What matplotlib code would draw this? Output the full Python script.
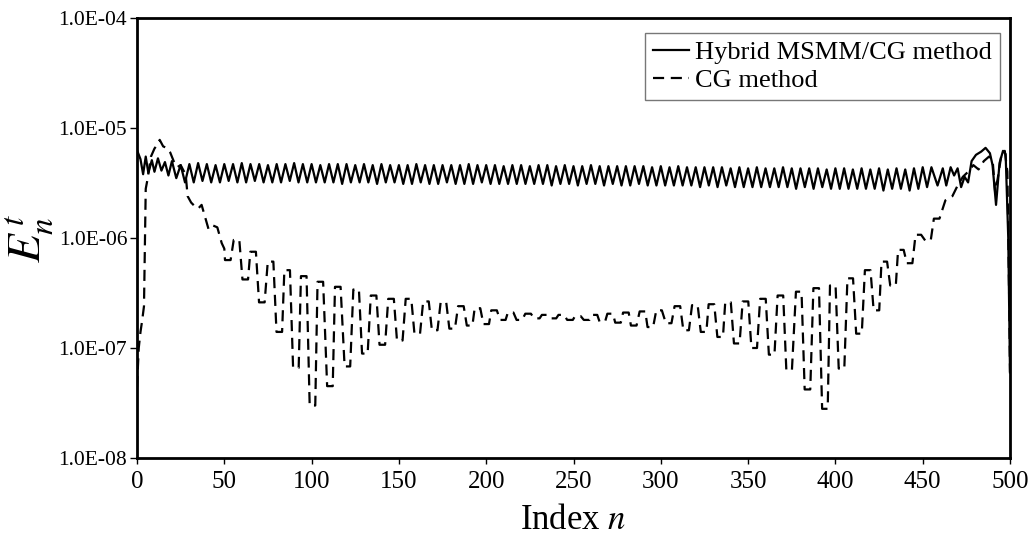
import numpy as np
import matplotlib
matplotlib.use("Agg")
import matplotlib.pyplot as plt
from matplotlib.ticker import FixedLocator, FixedFormatter, NullLocator

plt.rcParams["font.family"] = ["Liberation Serif", "DejaVu Serif"]
plt.rcParams["mathtext.fontset"] = "stix"

# ---------------- data ----------------
# Hybrid MSMM/CG method: error values in units of 1e-6
hybrid_head_n = [0, 2, 3.5, 5, 6.5, 8.5, 10, 12, 14, 16, 18, 20, 22.5, 25, 27.5]
hybrid_head = [6.3, 5.2, 3.8, 5.5, 3.9, 5.1, 4.0, 5.3, 4.1, 4.9, 3.7, 5.0, 3.5, 4.6, 3.2]

# regular part, sampled every 2.5 indices from n = 30 to n = 455
hybrid_body_first, hybrid_body_step = 30.0, 2.5
hybrid_body = [
    4.7, 3.2, 4.8, 3.3, 4.7, 3.2, 4.6, 3.2, 4.7, 3.3,
    4.7, 3.2, 4.8, 3.2, 4.7, 3.3, 4.7, 3.2, 4.6, 3.2,
    4.7, 3.2, 4.7, 3.3, 4.8, 3.2, 4.7, 3.2, 4.7, 3.2,
    4.6, 3.2, 4.7, 3.2, 4.7, 3.1, 4.7, 3.2, 4.6, 3.2,
    4.7, 3.2, 4.6, 3.1, 4.7, 3.2, 4.6, 3.2, 4.6, 3.1,
    4.6, 3.1, 4.7, 3.2, 4.6, 3.1, 4.6, 3.1, 4.6, 3.2,
    4.6, 3.1, 4.6, 3.1, 4.7, 3.1, 4.6, 3.2, 4.6, 3.1,
    4.6, 3.1, 4.5, 3.1, 4.6, 3.1, 4.6, 3.1, 4.5, 3.1,
    4.6, 3.1, 4.6, 3.0, 4.5, 3.1, 4.6, 3.1, 4.5, 3.0,
    4.5, 3.1, 4.6, 3.1, 4.5, 3.0, 4.5, 3.1, 4.5, 3.0,
    4.5, 3.0, 4.5, 3.1, 4.5, 3.0, 4.4, 3.0, 4.5, 3.0,
    4.4, 3.0, 4.5, 3.0, 4.4, 3.0, 4.4, 2.9, 4.4, 3.0,
    4.4, 2.9, 4.4, 3.0, 4.3, 2.9, 4.4, 2.9, 4.3, 2.9,
    4.4, 2.9, 4.3, 2.9, 4.3, 2.9, 4.4, 2.9, 4.3, 2.8,
    4.3, 2.9, 4.3, 2.8, 4.3, 2.9, 4.2, 2.8, 4.3, 2.8,
    4.3, 2.8, 4.2, 2.8, 4.3, 2.8, 4.2, 2.8, 4.3, 2.7,
    4.2, 2.8, 4.3, 2.8, 4.2, 2.7, 4.3, 2.8, 4.4, 2.9,
    4.4,
]

hybrid_tail_n = [458.5, 461.5, 463.5, 466, 468, 470, 472, 474, 476, 478,
                 480.5, 483.5, 486, 488.5, 490, 492, 494, 496, 497.5, 499, 500]
hybrid_tail = [3.0, 4.3, 3.0, 4.4, 3.7, 4.3, 2.9, 3.6, 3.2, 5.0,
               5.7, 6.1, 6.6, 5.9, 4.6, 2.0, 4.8, 6.2, 5.8, 1.0, 0.06]

# CG method
cg_head_n = [0, 1, 2, 3, 4, 5, 6, 8, 10, 12, 13, 15, 17, 19, 21, 23, 25, 27, 28,
             29, 31, 33, 35, 37, 39.5, 41, 43.5, 46, 48.5, 50]
cg_head = [4.4e-8, 1.0e-7, 1.4e-7, 1.8e-7, 2.4e-7, 2.8e-6, 3.4e-6, 5.5e-6, 6.5e-6,
           7.2e-6, 7.8e-6, 6.8e-6, 6.6e-6, 6.0e-6, 5.0e-6, 4.4e-6, 4.6e-6, 4.0e-6,
           3.6e-6, 2.4e-6, 2.1e-6, 1.95e-6, 1.85e-6, 2.0e-6, 1.45e-6, 1.2e-6,
           1.3e-6, 1.25e-6, 9.0e-7, 8.0e-7]

cg_trough_n = [52, 62, 71.5, 81.5, 91, 100.5, 110.5, 120.5, 130.5, 140.5,
               150.5, 160.5, 170.5, 180.5, 190.5, 200, 209.5, 219, 229, 238.5,
               248, 257.5, 266.5, 275.5, 284.5, 294, 304.5, 314.5, 324.5, 334,
               343.5, 353.5, 363.5, 373.5, 384, 394, 403.5, 413.5, 423.5, 433,
               442.5, 453]
cg_trough = [6.3e-7, 4.2e-7, 2.6e-7, 1.4e-7, 6.6e-8, 3.0e-8, 4.5e-8, 6.8e-8, 8.9e-8, 1.07e-7,
             1.17e-7, 1.35e-7, 1.45e-7, 1.5e-7, 1.6e-7, 1.65e-7, 1.8e-7, 1.8e-7, 1.86e-7, 1.86e-7,
             1.8e-7, 1.8e-7, 1.74e-7, 1.7e-7, 1.6e-7, 1.55e-7, 1.68e-7, 1.45e-7, 1.4e-7, 1.26e-7,
             1.1e-7, 1.0e-7, 8.7e-8, 6.3e-8, 4.2e-8, 2.8e-8, 6.5e-8, 1.35e-7, 2.2e-7, 3.7e-7,
             5.9e-7, 9.5e-7]

cg_peak_n = [57, 66.5, 76.5, 86, 95.5, 105, 115, 125.5, 135.5, 145.5,
             155.5, 165.5, 175.5, 185.5, 195, 204.5, 214, 224, 233.5, 243,
             252.5, 262, 271, 280, 289.5, 299, 309.5, 319.5, 329, 338.5,
             348.5, 358.5, 368.5, 379, 389, 398.5, 408.5, 418.5, 428, 437.5,
             447.5, 458]
cg_peak = [9.6e-7, 7.5e-7, 6.1e-7, 5.1e-7, 4.5e-7, 4.0e-7, 3.6e-7, 3.4e-7, 3.0e-7, 2.8e-7,
           2.8e-7, 2.65e-7, 2.6e-7, 2.4e-7, 2.3e-7, 2.2e-7, 2.1e-7, 2.05e-7, 2.0e-7, 2.0e-7,
           1.95e-7, 2.0e-7, 2.05e-7, 2.1e-7, 2.15e-7, 2.2e-7, 2.4e-7, 2.45e-7, 2.5e-7, 2.6e-7,
           2.65e-7, 2.8e-7, 3.0e-7, 3.25e-7, 3.5e-7, 3.7e-7, 4.3e-7, 5.1e-7, 6.1e-7, 7.8e-7,
           1.07e-6, 1.5e-6]

cg_tail_n = [463, 467, 470, 473, 476, 479, 482, 485, 488, 490, 491.5, 493, 495, 497,
             498.5, 499.5, 500]
cg_tail = [2.2e-6, 2.4e-6, 3.0e-6, 3.6e-6, 4.0e-6, 4.6e-6, 4.2e-6, 5.0e-6, 5.5e-6,
           5.2e-6, 2.6e-6, 3.5e-6, 5.6e-6, 6.2e-6, 4.0e-6, 3.0e-7, 6.0e-8]

x_ticks = [0, 50, 100, 150, 200, 250, 300, 350, 400, 450, 500]
y_ticks = [1e-8, 1e-7, 1e-6, 1e-5, 1e-4]
y_tick_labels = ["1.0E-08", "1.0E-07", "1.0E-06", "1.0E-05", "1.0E-04"]

# ---------------- assemble line paths ----------------
hybrid_body_n = hybrid_body_first + hybrid_body_step * np.arange(len(hybrid_body))
hybrid_n = np.concatenate([hybrid_head_n, hybrid_body_n, hybrid_tail_n])
hybrid_e = np.concatenate([hybrid_head, hybrid_body, hybrid_tail]) * 1e-6

# each CG extremum is drawn as a short flat cap of the read value
cap = 1.6
cg_mid_n, cg_mid_e = [], []
for tn, tv, pn, pv in zip(cg_trough_n, cg_trough, cg_peak_n, cg_peak):
    cg_mid_n += [tn - cap, tn + cap, pn - cap, pn + cap]
    cg_mid_e += [tv, tv, pv, pv]
cg_n = np.concatenate([cg_head_n, cg_mid_n, cg_tail_n])
cg_e = np.concatenate([cg_head, cg_mid_e, cg_tail])

# ---------------- figure ----------------
W, H = 1031, 541
left, right, top, bottom = 137, 1010, 18, 458
fig = plt.figure(figsize=(W / 100, H / 100), dpi=100)
fig.patch.set_facecolor("white")
ax = fig.add_axes([left / W, 1 - bottom / H, (right - left) / W, (bottom - top) / H])

ax.plot(hybrid_n, hybrid_e, color="black", lw=1.6, label="Hybrid MSMM/CG method")
ax.plot(cg_n, cg_e, color="black", lw=1.6, dashes=(5, 3), label="CG method")

ax.set_yscale("log")
ax.set_xlim(0, 500)
ax.set_ylim(1e-8, 1e-4)
ax.xaxis.set_major_locator(FixedLocator(x_ticks))
ax.yaxis.set_major_locator(FixedLocator(y_ticks))
ax.yaxis.set_major_formatter(FixedFormatter(y_tick_labels))
ax.yaxis.set_minor_locator(NullLocator())
ax.xaxis.set_minor_locator(NullLocator())

ax.tick_params(axis="x", labelsize=18, length=4, width=1, direction="out", pad=5)
ax.tick_params(axis="y", labelsize=15.5, length=5, width=1, direction="out", pad=2)

for s in ax.spines.values():
    s.set_linewidth(2.0)
    s.set_color("black")

ax.set_xlabel("Index $n$", fontsize=25)
ax.xaxis.set_label_coords(0.5, -0.105)
ax.set_ylabel(r"$E^{\,t}_{n}$", fontsize=34, labelpad=0)
ax.yaxis.set_label_coords(-0.093, 0.5)

leg = ax.legend(loc="upper right", bbox_to_anchor=(0.9885, 0.966), borderaxespad=0,
                fontsize=19, frameon=True, fancybox=False, handlelength=1.35,
                handletextpad=0.25, labelspacing=0.15, borderpad=0.3)
leg.get_frame().set_edgecolor("#555555")
leg.get_frame().set_linewidth(1.0)

fig.savefig("out.png", dpi=100, facecolor="white")
